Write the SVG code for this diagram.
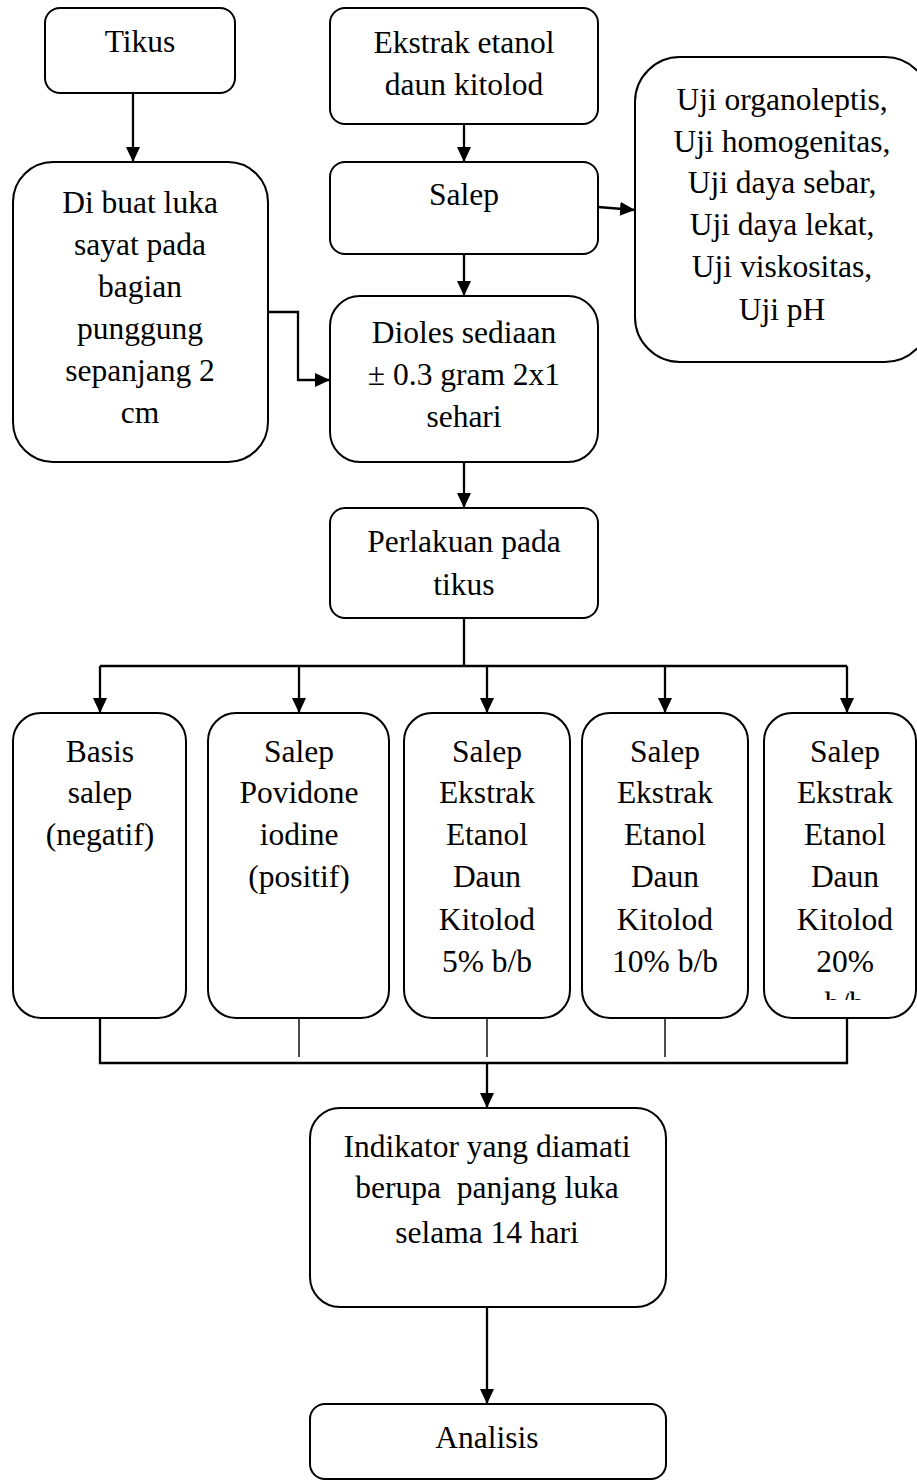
<svg xmlns="http://www.w3.org/2000/svg" width="917" height="1481" viewBox="0 0 917 1481">
<style>
.box{fill:#fff;stroke:#000;stroke-width:2}
.t{font-family:"Liberation Serif","Times New Roman",serif;font-size:31.5px;fill:#000;text-anchor:middle}
.c{fill:none;stroke:#000;stroke-width:2.3}
.thin{fill:none;stroke:#000;stroke-width:1.4}
</style>
<defs>
<marker id="ah" markerUnits="userSpaceOnUse" markerWidth="15" markerHeight="14" refX="15" refY="7" orient="auto">
<path d="M0,0 L15,7 L0,14 Z" fill="#000"/>
</marker>
<clipPath id="clip5"><rect x="760" y="700" width="160" height="300"/></clipPath>
</defs>
<g id="connectors">
<path class="c" d="M133,93 V162" marker-end="url(#ah)"/>
<path class="c" d="M464,124 V162" marker-end="url(#ah)"/>
<path class="c" d="M464,254 V296" marker-end="url(#ah)"/>
<path class="c" d="M598,207 L635,210" marker-end="url(#ah)"/>
<path class="c" d="M268,312 H298 V380 H330" marker-end="url(#ah)"/>
<path class="c" d="M464,462 V508" marker-end="url(#ah)"/>
<path class="c" d="M464,618 V666"/>
<path class="c" d="M100,666 H847"/>
<path class="c" d="M100,666 V713" marker-end="url(#ah)"/>
<path class="c" d="M299,666 V713" marker-end="url(#ah)"/>
<path class="c" d="M487,666 V713" marker-end="url(#ah)"/>
<path class="c" d="M665,666 V713" marker-end="url(#ah)"/>
<path class="c" d="M847,666 V713" marker-end="url(#ah)"/>
<path class="c" d="M100,1018 V1063 H847 V1018"/>
<path class="thin" d="M299,1018 V1057"/>
<path class="thin" d="M487,1018 V1057"/>
<path class="thin" d="M665,1018 V1057"/>
<path class="c" d="M487,1063 V1108" marker-end="url(#ah)"/>
<path class="c" d="M487,1307 V1404" marker-end="url(#ah)"/>
</g>
<g id="tikus">
<rect class="box" x="45" y="8" width="190" height="85" rx="15"/>
<text class="t" x="140" y="52">Tikus</text>
</g>
<g id="luka">
<rect class="box" x="13" y="162" width="255" height="300" rx="40"/>
<text class="t" x="140" y="213">Di buat luka</text>
<text class="t" x="140" y="255">sayat pada</text>
<text class="t" x="140" y="297">bagian</text>
<text class="t" x="140" y="339">punggung</text>
<text class="t" x="140" y="381">sepanjang 2</text>
<text class="t" x="140" y="423">cm</text>
</g>
<g id="ekstrak">
<rect class="box" x="330" y="8" width="268" height="116" rx="15"/>
<text class="t" x="464" y="53">Ekstrak etanol</text>
<text class="t" x="464" y="95">daun kitolod</text>
</g>
<g id="salep">
<rect class="box" x="330" y="162" width="268" height="92" rx="15"/>
<text class="t" x="464" y="205">Salep</text>
</g>
<g id="uji">
<rect class="box" x="635" y="57" width="295" height="305" rx="45"/>
<text class="t" x="782" y="110">Uji organoleptis,</text>
<text class="t" x="782" y="152">Uji homogenitas,</text>
<text class="t" x="782" y="193">Uji daya sebar,</text>
<text class="t" x="782" y="235">Uji daya lekat,</text>
<text class="t" x="782" y="277">Uji viskositas,</text>
<text class="t" x="782" y="320">Uji pH</text>
</g>
<g id="dioles">
<rect class="box" x="330" y="296" width="268" height="166" rx="30"/>
<text class="t" x="464" y="343">Dioles sediaan</text>
<text class="t" x="464" y="385">± 0.3 gram 2x1</text>
<text class="t" x="464" y="427">sehari</text>
</g>
<g id="perlakuan">
<rect class="box" x="330" y="508" width="268" height="110" rx="15"/>
<text class="t" x="464" y="552">Perlakuan pada</text>
<text class="t" x="464" y="595">tikus</text>
</g>
<g id="basis">
<rect class="box" x="13" y="713" width="173" height="305" rx="28"/>
<text class="t" x="100" y="762">Basis</text>
<text class="t" x="100" y="803">salep</text>
<text class="t" x="100" y="845">(negatif)</text>
</g>
<g id="povidone">
<rect class="box" x="208" y="713" width="181" height="305" rx="28"/>
<text class="t" x="299" y="762">Salep</text>
<text class="t" x="299" y="803">Povidone</text>
<text class="t" x="299" y="845">iodine</text>
<text class="t" x="299" y="887">(positif)</text>
</g>
<g id="ekstrak5">
<rect class="box" x="404" y="713" width="166" height="305" rx="28"/>
<text class="t" x="487" y="762">Salep</text>
<text class="t" x="487" y="803">Ekstrak</text>
<text class="t" x="487" y="845">Etanol</text>
<text class="t" x="487" y="887">Daun</text>
<text class="t" x="487" y="930">Kitolod</text>
<text class="t" x="487" y="972">5% b/b</text>
</g>
<g id="ekstrak10">
<rect class="box" x="582" y="713" width="166" height="305" rx="28"/>
<text class="t" x="665" y="762">Salep</text>
<text class="t" x="665" y="803">Ekstrak</text>
<text class="t" x="665" y="845">Etanol</text>
<text class="t" x="665" y="887">Daun</text>
<text class="t" x="665" y="930">Kitolod</text>
<text class="t" x="665" y="972">10% b/b</text>
</g>
<g id="ekstrak20">
<rect class="box" x="764" y="713" width="152" height="305" rx="28"/>
<g clip-path="url(#clip5)">
<text class="t" x="845" y="762">Salep</text>
<text class="t" x="845" y="803">Ekstrak</text>
<text class="t" x="845" y="845">Etanol</text>
<text class="t" x="845" y="887">Daun</text>
<text class="t" x="845" y="930">Kitolod</text>
<text class="t" x="845" y="972">20%</text>
<text class="t" x="845" y="1014">b/b</text>
</g>
</g>
<g id="indikator">
<rect class="box" x="310" y="1108" width="356" height="199" rx="30"/>
<text class="t" x="487" y="1157">Indikator yang diamati</text>
<text class="t" x="487" y="1198" xml:space="preserve">berupa  panjang luka</text>
<text class="t" x="487" y="1243">selama 14 hari</text>
</g>
<g id="analisis">
<rect class="box" x="310" y="1404" width="356" height="75" rx="15"/>
<text class="t" x="487" y="1448">Analisis</text>
</g>
</svg>
